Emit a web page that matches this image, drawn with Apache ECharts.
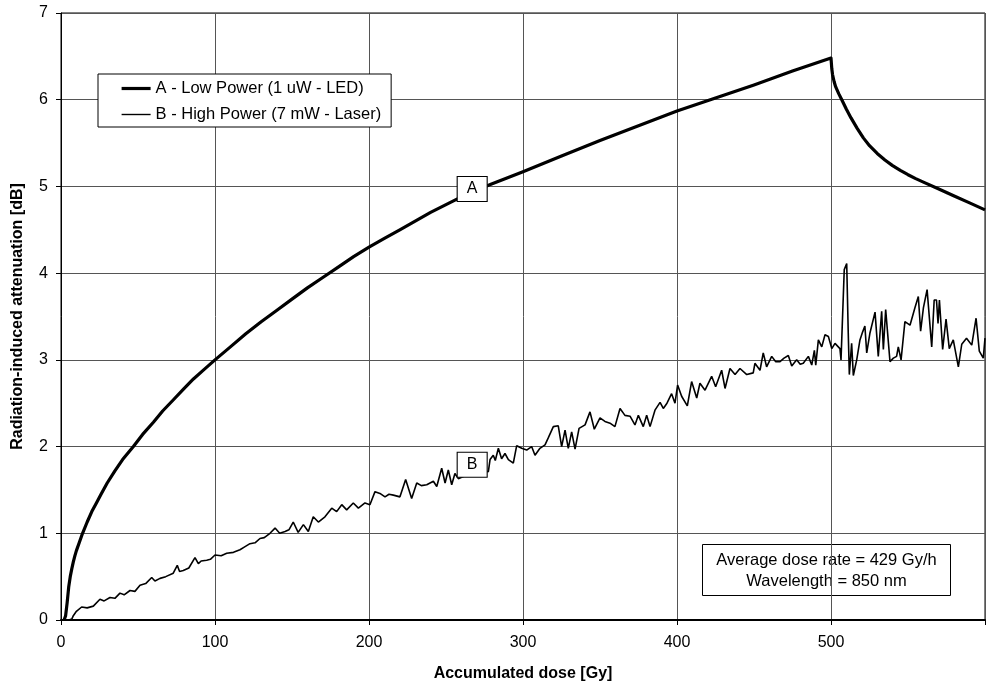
<!DOCTYPE html>
<html>
<head>
<meta charset="utf-8">
<script src="https://cdn.jsdelivr.net/npm/echarts@6/dist/echarts.min.js"></script>
<style>html,body{margin:0;padding:0;background:#fff}#c{width:989px;height:687px}</style>
</head>
<body>
<div id="c"></div>
<script>
// ---- Data ----
const seriesNames = ['A - Low Power (1 uW - LED)', 'B - High Power (7 mW - Laser)'];
const xTickLabels = ['0', '100', '200', '300', '400', '500', ''];
const yTickLabels = ['0', '1', '2', '3', '4', '5', '6', '7'];

const aDose = [2,3,4,5,6,7,8,9,10,12,14,17,20,23,26,30,35,40,47,53,60,66,73,80,86,93,100,110,120,130,140,150,160,170,180,190,200,210,220,230,240,250,260,270,280,290,300,325,350,375,400,425,450,475,500,500.5,501,502,503,505,507,510,513,517,521,525,530,535,540,545,550,555,560,570,580,590,600];
const aVal  = [0,0.05,0.2,0.38,0.5,0.59,0.67,0.74,0.8,0.9,1.0,1.13,1.25,1.35,1.45,1.58,1.72,1.85,2.0,2.14,2.28,2.41,2.54,2.67,2.78,2.89,3.0,3.15,3.3,3.44,3.57,3.7,3.83,3.95,4.07,4.19,4.3,4.4,4.5,4.6,4.7,4.79,4.88,4.96,5.03,5.1,5.17,5.35,5.53,5.7,5.87,6.02,6.17,6.33,6.48,6.36,6.29,6.21,6.15,6.07,6.0,5.89,5.79,5.67,5.56,5.47,5.38,5.305,5.24,5.185,5.135,5.09,5.05,4.97,4.89,4.81,4.73];

const bDose = [5,7,8,10,13.4,17,21,25.3,28,31.8,35,38.3,41,44.8,48,51.3,55,58.9,61,64.3,68,72.9,75.5,77,79.4,83,87,89.2,91,94.6,97,100,104,107.6,112,116.2,119,122.7,126,129.2,132,135.7,139,142,145.5,148,150.8,154,157.4,160.6,163.8,167.1,171.4,175.8,179,182.3,185.5,189.8,193.1,197.4,200.6,203.9,207.1,210.4,213,215.8,220.1,223.8,227.7,231,234,237.5,241.8,244,247.2,249.4,251.5,253.7,255.8,258,262,266,270,274,277.5,278.6,280.7,282,284,286.1,288.3,290.5,293.7,295.9,299.2,302.4,305.6,307.8,311,314.3,316.4,319.7,322.9,325.1,327.3,329.4,331.6,333.8,336.4,340.3,343.5,346.3,350,353.2,356.5,359.7,363,366.2,369.5,372.7,374.9,378.1,380.3,382.5,385.7,389,391.1,393.5,396.5,398.7,400.4,403,406.7,409.5,412.8,414.9,418.2,422.5,425.1,429,431.2,434.4,437.7,440.9,445.3,449.5,450.6,453.9,456,458.2,461.5,464,466.9,469.5,472.3,474.5,477.7,480,482,485.3,487.5,489.2,490.1,491.8,494,496.1,498.3,500.5,502.6,505.8,506.5,508.6,510.2,511.2,511.9,513.4,514.5,516.7,518.8,520.5,522,523.2,525.3,528.6,530.7,532.9,534,535.5,538.3,540.5,542.6,543.7,545.5,548,551.3,554.5,556.7,558.2,560,562.4,565.4,567,568.5,569.5,570.4,572.5,574.7,576.8,579.4,582.7,584.9,588,591.4,594.2,596.3,598.9,600];
const bVal  = [0,0.01,0.05,0.1,0.15,0.14,0.16,0.24,0.22,0.26,0.25,0.31,0.29,0.34,0.33,0.4,0.42,0.49,0.45,0.48,0.5,0.54,0.63,0.56,0.57,0.6,0.72,0.65,0.68,0.69,0.7,0.75,0.74,0.77,0.78,0.81,0.84,0.88,0.89,0.94,0.95,1.0,1.06,1.0,1.02,1.04,1.13,1.01,1.1,1.02,1.19,1.13,1.19,1.29,1.25,1.33,1.27,1.35,1.29,1.35,1.33,1.48,1.46,1.42,1.45,1.44,1.42,1.62,1.4,1.58,1.55,1.56,1.6,1.54,1.75,1.58,1.73,1.56,1.69,1.63,1.66,1.7,1.68,1.72,1.71,1.85,1.9,1.84,1.98,1.86,1.92,1.85,1.81,2.01,1.98,1.96,2.0,1.9,1.98,2.02,2.1,2.23,2.24,2.0,2.19,1.98,2.17,1.97,2.21,2.25,2.4,2.2,2.33,2.29,2.27,2.23,2.44,2.36,2.35,2.25,2.36,2.23,2.36,2.23,2.42,2.51,2.44,2.5,2.61,2.5,2.71,2.58,2.47,2.75,2.56,2.73,2.65,2.81,2.69,2.88,2.67,2.9,2.83,2.9,2.83,2.85,2.96,2.88,3.08,2.92,3.04,2.98,2.98,3.02,3.05,2.93,3.0,2.95,2.96,3.04,2.94,3.11,2.94,3.23,3.15,3.29,3.27,3.13,3.19,3.13,3.0,4.04,4.11,3.31,2.83,3.19,2.82,3.0,3.23,3.32,3.39,3.08,3.31,3.55,3.04,3.56,3.12,3.58,2.98,3.02,3.04,3.15,3.0,3.44,3.4,3.6,3.73,3.33,3.6,3.81,3.15,3.69,3.69,3.42,3.69,3.12,3.47,3.13,3.23,2.92,3.18,3.25,3.17,3.48,3.1,3.02,3.25];

// annotation anchors (data coordinates)
const labelA = [267, 4.97];
const labelB = [267, 1.79];
const infoLines = ['Average dose rate = 429 Gy/h', 'Wavelength = 850 nm'];

const FONT = 'Liberation Sans, Arial, sans-serif';
const chart = echarts.init(document.getElementById('c'), null, {renderer: 'canvas'});

function boxMark(txt, coord) {
  return {
    symbol: 'rect', symbolSize: [30, 25], silent: true,
    itemStyle: {color: '#fff', borderColor: '#000', borderWidth: 1},
    label: {show: true, position: 'inside', formatter: txt, color: '#000', fontSize: 16, fontFamily: FONT},
    data: [{coord: coord}]
  };
}

const option = {
  animation: false,
  backgroundColor: '#fff',
  textStyle: {fontFamily: FONT},
  grid: {left: 61, right: 4, top: 13, bottom: 67, show: true, borderColor: '#000', borderWidth: 1, backgroundColor: '#fff'},
  legend: {
    data: [
      {name: seriesNames[0], lineStyle: {width: 3.2, color: '#000'}},
      {name: seriesNames[1], lineStyle: {width: 1.4, color: '#000'}}
    ],
    orient: 'vertical', left: 98, top: 74,
    backgroundColor: '#fff', borderColor: '#000', borderWidth: 1, borderRadius: 0,
    padding: [6, 10, 4, 22], itemWidth: 29, itemHeight: 14, itemGap: 9,
    itemStyle: {color: 'rgba(0,0,0,0)', borderWidth: 0, opacity: 0},
    textStyle: {fontSize: 16.5, color: '#000', fontFamily: FONT, lineHeight: 17},
    selectedMode: false
  },
  xAxis: {
    type: 'value', min: 0, max: 600, interval: 100,
    name: 'Accumulated dose [Gy]', nameLocation: 'middle', nameGap: 46,
    nameTextStyle: {fontSize: 16, fontWeight: 'bold', color: '#000', fontFamily: FONT},
    axisLine: {show: true, onZero: false, lineStyle: {color: '#000', width: 2}},
    axisTick: {show: true, inside: false, length: 5, lineStyle: {color: '#000'}},
    axisLabel: {fontSize: 16, color: '#000', margin: 15, fontFamily: FONT,
      formatter: v => xTickLabels[Math.round(v / 100)]},
    splitLine: {show: true, lineStyle: {color: '#555', width: 1}}
  },
  yAxis: {
    type: 'value', min: 0, max: 7, interval: 1,
    name: 'Radiation-induced attenuation [dB]', nameLocation: 'middle', nameGap: 35,
    nameTextStyle: {fontSize: 16, fontWeight: 'bold', color: '#000', fontFamily: FONT},
    axisLine: {show: true, lineStyle: {color: '#000', width: 1}},
    axisTick: {show: true, inside: false, length: 5, lineStyle: {color: '#000'}},
    axisLabel: {fontSize: 16, color: '#000', margin: 13, fontFamily: FONT,
      formatter: v => yTickLabels[Math.round(v)]},
    splitLine: {show: true, lineStyle: {color: '#555', width: 1}}
  },
  series: [
    {
      name: seriesNames[0], type: 'line', symbol: 'none', showSymbol: false,
      data: aDose.map((d, i) => [d, aVal[i]]),
      lineStyle: {color: '#000', width: 3.2, join: 'round'}, itemStyle: {color: '#000'},
      z: 3, markPoint: boxMark('A', labelA)
    },
    {
      name: seriesNames[1], type: 'line', symbol: 'none', showSymbol: false,
      data: bDose.map((d, i) => [d, bVal[i]]),
      lineStyle: {color: '#000', width: 1.6}, itemStyle: {color: '#000'},
      z: 2, markPoint: boxMark('B', labelB)
    }
  ],
  graphic: [{
    type: 'group', left: 702, top: 544, z: 100,
    children: [
      {type: 'rect', shape: {x: 0, y: 0, width: 248, height: 51}, style: {fill: '#fff', stroke: '#000', lineWidth: 1}},
      {type: 'text', style: {text: infoLines.join('\n'), x: 124, y: 26, align: 'center', verticalAlign: 'middle',
        fontSize: 16.5, fontFamily: FONT, lineHeight: 21, fill: '#000'}}
    ]
  }]
};
chart.setOption(option);
</script>
</body>
</html>
